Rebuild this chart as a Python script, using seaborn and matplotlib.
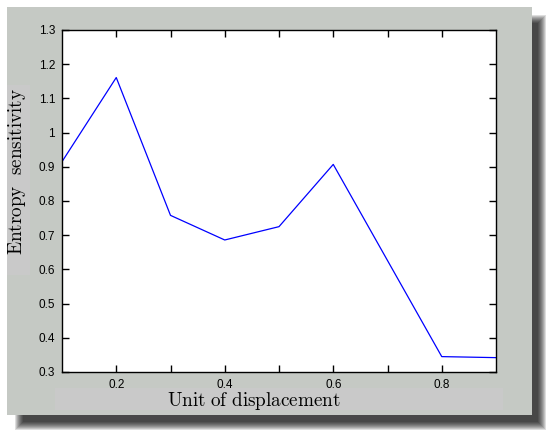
import matplotlib
matplotlib.use("Agg")
import matplotlib.pyplot as plt
import seaborn as sns
import pandas as pd
from matplotlib.patches import Rectangle
from matplotlib.ticker import FixedLocator

displacement = [0.1, 0.2, 0.3, 0.4, 0.5, 0.6, 0.7, 0.8, 0.9]
sensitivity = [0.915, 1.161, 0.758, 0.686, 0.725, 0.907, 0.626, 0.345, 0.342]
xtick_labeled = [0.2, 0.4, 0.6, 0.8]
xtick_minor = [0.3, 0.5, 0.7]
yticks = [0.3, 0.4, 0.5, 0.6, 0.7, 0.8, 0.9, 1.0, 1.1, 1.2, 1.3]
ytick_labels = ["0.3", "0.4", "0.5", "0.6", "0.7", "0.8", "0.9", "1", "1.1", "1.2", "1.3"]

sns.set_style("ticks")
plt.rcParams['font.family'] = ['Liberation Sans', 'DejaVu Sans']
plt.rcParams['mathtext.fontset'] = 'cm'

W, H = 555, 438
fig = plt.figure(figsize=(W / 100, H / 100), dpi=100)
fig.patch.set_facecolor("white")

def frect(x0, y0, x1, y1, **kw):
    r = Rectangle((x0 / W, 1 - y1 / H), (x1 - x0) / W, (y1 - y0) / H,
                  transform=fig.transFigure, **kw)
    fig.patches.append(r)

# blurred shadow
for i in range(9):
    frect(15 + i, 15 + i, 546 - i, 430 - i, facecolor="black", edgecolor="none",
          alpha=0.13, zorder=0)
# gray panel
frect(7, 7, 532, 415, facecolor="#c5c9c4", edgecolor="none", zorder=1)
# lighter label patches
frect(7, 85, 30, 275, facecolor="#c9c9c9", edgecolor="none", zorder=2)
frect(55, 388, 503, 410, facecolor="#c9c9c9", edgecolor="none", zorder=2)

ax = fig.add_axes([62 / W, 1 - 372 / H, (496 - 62) / W, (372 - 30) / H])
ax.set_zorder(3)
df = pd.DataFrame({"x": displacement, "y": sensitivity})
sns.lineplot(data=df, x="x", y="y", ax=ax, color="#0000ff", linewidth=0.9)

ax.set_xlim(0.1, 0.9)
ax.set_ylim(0.3, 1.3)
ax.set_facecolor("white")
for s in ax.spines.values():
    s.set_visible(True)
    s.set_color("black")
    s.set_linewidth(1.0)

ax.xaxis.set_major_locator(FixedLocator(xtick_labeled))
ax.set_xticklabels([f"{v:.1f}" for v in xtick_labeled])
ax.xaxis.set_minor_locator(FixedLocator(xtick_minor))
ax.set_yticks(yticks)
ax.set_yticklabels(ytick_labels)
ax.tick_params(which="both", direction="in", length=5, width=1, color="black",
               top=True, right=True, labelsize=8.5, labelcolor="black", pad=5)

ax.set_xlabel(r"$\mathrm{Unit\ of\ displacement}$", fontsize=13.8, color="black")
ax.set_ylabel(r"$\mathrm{Entropy\ \ sensitivity}$", fontsize=13.8, color="black")
ax.xaxis.set_label_coords((254 - 62) / 434, (372 - 390) / 342)
ax.yaxis.set_label_coords((28 - 62) / 434, (372 - 171) / 342)

fig.savefig("out.png", dpi=100, facecolor=fig.get_facecolor())
